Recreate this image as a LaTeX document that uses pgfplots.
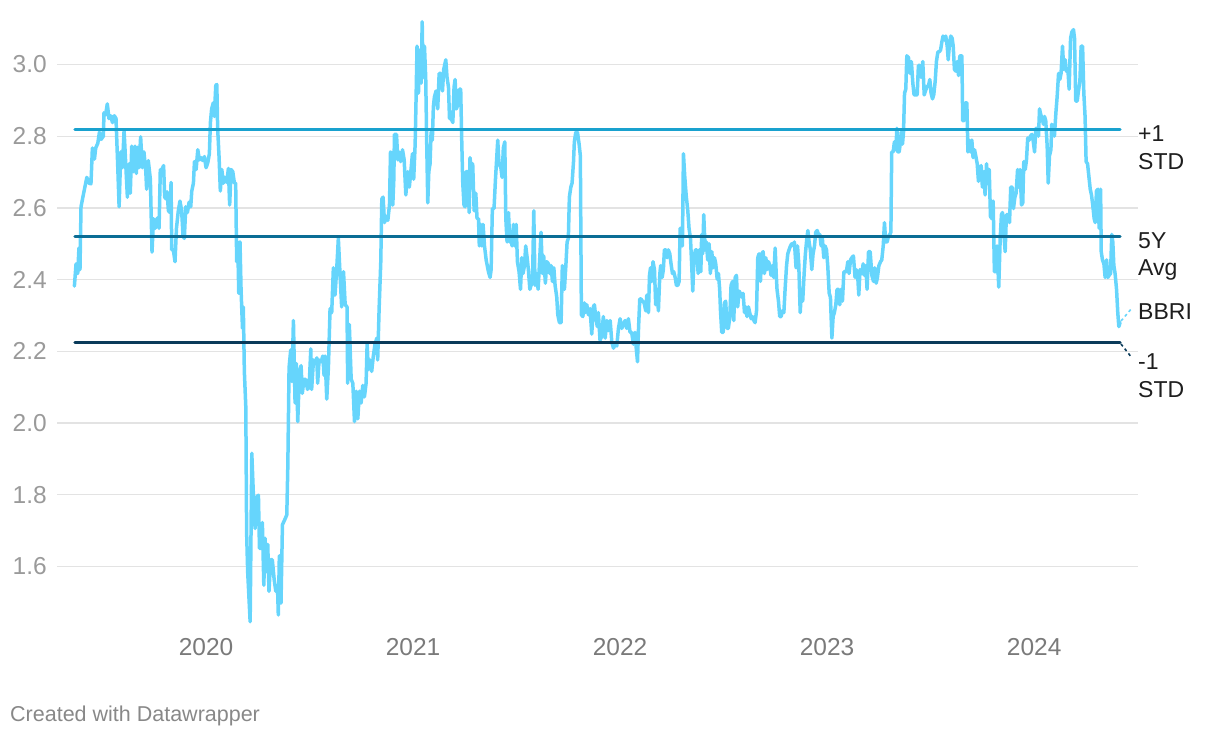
\documentclass[border=0pt]{standalone}
\usepackage{fontspec}
\setmainfont{Liberation Sans}
\usepackage{pgfplots}
\pgfplotsset{compat=1.18}

\definecolor{bbri}{HTML}{66D5FC}
\definecolor{stdhi}{HTML}{19A1CE}
\definecolor{avgc}{HTML}{0B6D95}
\definecolor{stdlo}{HTML}{0A3B5A}
\definecolor{gridc}{HTML}{E3E3E3}
\definecolor{ticky}{HTML}{9A9A9A}
\definecolor{tickx}{HTML}{7A7A7A}
\definecolor{labc}{HTML}{1E1E1E}
\definecolor{footc}{HTML}{888888}

\begin{document}
\begin{tikzpicture}
\useasboundingbox (0pt,0pt) rectangle (1220pt,738pt);
\begin{axis}[
  at={(57pt,99.7pt)}, anchor=south west,
  width=1081pt, height=645.6pt, scale only axis,
  xmin=2019.280, xmax=2024.502,
  ymin=1.4, ymax=3.2,
  axis line style={draw=none},
  major tick length=0pt,
  xtick={2020,2021,2022,2023,2024},
  xticklabels={2020,2021,2022,2023,2024},
  ytick={1.6,1.8,2.0,2.2,2.4,2.6,2.8,3.0},
  yticklabels={1.6,1.8,2.0,2.2,2.4,2.6,2.8,3.0},
  ymajorgrids=true,
  grid style={gridc, line width=1.3pt},
  /pgf/number format/assume math mode=true,
  every tick label/.append style={font=\fontsize{24.5}{28}\selectfont},
  yticklabel style={anchor=east, inner sep=0pt, xshift=-10pt, text=ticky},
  xticklabel style={anchor=north, inner sep=0pt, yshift=0pt, text=tickx},
]

% BBRI series
\addplot[bbri, line width=3.5pt, line join=round, line cap=round] coordinates {
(2019.364,2.382)(2019.372,2.444)(2019.380,2.417)(2019.386,2.488)(2019.391,2.428)(2019.396,2.603)
(2019.407,2.636)(2019.424,2.685)(2019.435,2.669)(2019.444,2.667)(2019.451,2.767)(2019.461,2.736)
(2019.467,2.767)(2019.477,2.780)(2019.485,2.811)(2019.493,2.791)(2019.504,2.800)(2019.507,2.865)
(2019.515,2.860)(2019.523,2.890)(2019.531,2.849)(2019.539,2.857)(2019.548,2.838)(2019.557,2.857)
(2019.565,2.849)(2019.573,2.723)(2019.580,2.603)(2019.588,2.756)(2019.596,2.712)(2019.604,2.816)
(2019.612,2.723)(2019.620,2.630)(2019.628,2.723)(2019.634,2.641)(2019.641,2.772)(2019.649,2.701)
(2019.657,2.772)(2019.663,2.696)(2019.670,2.769)(2019.676,2.712)(2019.684,2.798)(2019.692,2.712)
(2019.700,2.756)(2019.709,2.701)(2019.713,2.652)(2019.721,2.732)(2019.731,2.680)(2019.739,2.477)
(2019.746,2.570)(2019.754,2.543)(2019.765,2.572)(2019.773,2.543)(2019.779,2.707)(2019.787,2.707)
(2019.795,2.718)(2019.800,2.630)(2019.807,2.625)(2019.812,2.645)(2019.818,2.592)(2019.826,2.587)
(2019.831,2.671)(2019.834,2.483)(2019.842,2.483)(2019.850,2.450)(2019.857,2.543)(2019.866,2.592)
(2019.874,2.619)(2019.882,2.592)(2019.889,2.521)(2019.895,2.515)(2019.902,2.603)(2019.910,2.587)
(2019.918,2.616)(2019.926,2.603)(2019.931,2.647)(2019.939,2.669)(2019.944,2.729)(2019.952,2.707)
(2019.960,2.762)(2019.968,2.734)(2019.976,2.740)(2019.984,2.732)(2019.992,2.743)(2020.000,2.712)
(2020.008,2.725)(2020.016,2.751)(2020.021,2.838)(2020.027,2.876)(2020.035,2.893)(2020.040,2.855)
(2020.047,2.942)(2020.052,2.944)(2020.056,2.822)(2020.063,2.740)(2020.069,2.647)(2020.076,2.707)
(2020.084,2.669)(2020.092,2.685)(2020.100,2.671)(2020.108,2.710)(2020.114,2.608)(2020.121,2.707)
(2020.129,2.701)(2020.137,2.669)(2020.143,2.669)(2020.148,2.450)(2020.153,2.505)(2020.158,2.362)
(2020.164,2.505)(2020.169,2.373)(2020.176,2.264)(2020.180,2.324)(2020.185,2.144)(2020.192,2.045)
(2020.196,1.695)(2020.201,1.586)(2020.213,1.446)(2020.221,1.916)(2020.229,1.794)(2020.237,1.706)
(2020.245,1.794)(2020.253,1.799)(2020.258,1.651)(2020.266,1.651)(2020.272,1.723)(2020.279,1.548)
(2020.285,1.679)(2020.291,1.586)(2020.298,1.662)(2020.304,1.531)(2020.312,1.619)(2020.320,1.619)
(2020.329,1.564)(2020.337,1.531)(2020.345,1.548)(2020.349,1.465)(2020.354,1.630)(2020.362,1.498)
(2020.369,1.717)(2020.378,1.728)(2020.390,1.744)(2020.395,1.881)(2020.401,2.155)(2020.409,2.204)
(2020.415,2.116)(2020.422,2.286)(2020.430,2.056)(2020.436,2.166)(2020.443,2.004)(2020.451,2.144)
(2020.459,2.160)(2020.465,2.083)(2020.473,2.122)(2020.481,2.122)(2020.490,2.094)(2020.498,2.102)
(2020.506,2.207)(2020.510,2.094)(2020.519,2.176)(2020.527,2.166)(2020.535,2.182)(2020.539,2.111)
(2020.546,2.176)(2020.556,2.171)(2020.564,2.187)(2020.570,2.133)
(2020.575,2.187)(2020.583,2.067)(2020.591,2.155)(2020.599,2.319)(2020.607,2.308)(2020.615,2.433)
(2020.623,2.357)(2020.631,2.428)(2020.639,2.515)(2020.647,2.417)(2020.655,2.324)(2020.664,2.422)
(2020.672,2.330)(2020.681,2.324)(2020.684,2.111)(2020.692,2.275)(2020.701,2.122)(2020.709,2.111)
(2020.717,2.004)(2020.725,2.089)(2020.733,2.012)(2020.741,2.089)(2020.749,2.056)(2020.757,2.105)
(2020.765,2.073)(2020.773,2.111)(2020.778,2.220)(2020.784,2.149)(2020.792,2.176)(2020.800,2.144)
(2020.808,2.187)(2020.816,2.220)(2020.825,2.237)(2020.829,2.176)(2020.836,2.319)(2020.844,2.450)
(2020.849,2.625)(2020.855,2.630)(2020.862,2.559)(2020.870,2.576)(2020.878,2.565)(2020.886,2.608)
(2020.891,2.756)(2020.897,2.751)(2020.902,2.608)(2020.907,2.680)(2020.910,2.805)(2020.920,2.805)
(2020.926,2.734)(2020.932,2.756)(2020.940,2.729)(2020.949,2.762)(2020.957,2.734)(2020.965,2.636)
(2020.974,2.701)(2020.982,2.658)(2020.990,2.707)(2020.997,2.751)(2021.003,2.680)(2021.010,2.778)
(2021.015,2.920)(2021.019,3.051)(2021.026,2.920)(2021.032,3.040)(2021.039,2.948)(2021.044,3.119)
(2021.048,2.964)(2021.055,3.051)(2021.061,2.964)(2021.066,2.778)(2021.071,2.614)(2021.076,2.701)
(2021.082,2.723)(2021.087,2.811)(2021.093,2.789)(2021.098,2.882)(2021.103,2.909)(2021.111,2.926)
(2021.119,2.876)(2021.126,2.975)(2021.134,2.975)(2021.142,2.926)(2021.148,2.986)(2021.158,3.013)
(2021.164,2.964)(2021.171,2.937)(2021.176,2.849)(2021.184,2.849)(2021.192,2.838)(2021.198,2.937)
(2021.203,2.958)(2021.209,2.876)(2021.216,2.887)(2021.224,2.931)(2021.230,2.931)(2021.235,2.789)
(2021.240,2.669)(2021.246,2.608)(2021.251,2.603)(2021.256,2.701)(2021.264,2.701)(2021.271,2.587)
(2021.275,2.740)(2021.283,2.701)(2021.288,2.723)(2021.295,2.592)(2021.303,2.641)(2021.309,2.570)
(2021.316,2.570)(2021.320,2.494)(2021.327,2.554)(2021.332,2.494)(2021.338,2.554)(2021.345,2.494)
(2021.353,2.455)(2021.364,2.422)(2021.372,2.406)(2021.377,2.428)(2021.383,2.598)(2021.391,2.598)
(2021.398,2.680)(2021.403,2.729)(2021.409,2.789)(2021.415,2.723)(2021.424,2.712)(2021.430,2.685)
(2021.436,2.767)(2021.443,2.784)(2021.448,2.570)(2021.454,2.505)(2021.461,2.587)(2021.467,2.505)
(2021.472,2.526)(2021.478,2.494)(2021.485,2.554)(2021.491,2.494)(2021.498,2.554)(2021.504,2.450)
(2021.512,2.422)(2021.519,2.373)(2021.525,2.461)(2021.531,2.417)(2021.538,2.439)(2021.544,2.494)
(2021.551,2.461)(2021.557,2.428)(2021.564,2.373)(2021.570,2.384)(2021.577,2.395)(2021.583,2.592)
(2021.589,2.384)(2021.597,2.417)(2021.604,2.373)(2021.612,2.461)(2021.618,2.532)(2021.625,2.417)
(2021.631,2.466)(2021.639,2.390)(2021.646,2.450)(2021.654,2.444)(2021.660,2.417)(2021.667,2.439)
(2021.673,2.395)(2021.680,2.433)(2021.686,2.384)(2021.694,2.351)(2021.699,2.302)(2021.707,2.280)
(2021.715,2.280)(2021.721,2.439)(2021.731,2.373)(2021.738,2.439)(2021.744,2.505)(2021.750,2.515)
(2021.755,2.630)(2021.762,2.658)(2021.768,2.669)(2021.775,2.729)(2021.779,2.784)(2021.786,2.811)
(2021.794,2.811)(2021.802,2.778)(2021.808,2.745)(2021.813,2.302)(2021.820,2.297)(2021.828,2.335)
(2021.831,2.308)(2021.839,2.330)(2021.847,2.302)(2021.855,2.319)(2021.863,2.248)(2021.871,2.324)
(2021.876,2.330)(2021.882,2.297)(2021.890,2.269)(2021.895,2.308)(2021.903,2.231)(2021.911,2.242)
(2021.919,2.297)(2021.928,2.237)(2021.936,2.286)(2021.944,2.258)(2021.952,2.286)(2021.960,2.226)
(2021.968,2.209)(2021.976,2.220)(2021.984,2.215)(2021.992,2.264)(2022.000,2.291)(2022.008,2.264)
(2022.016,2.275)(2022.024,2.286)(2022.032,2.264)(2022.040,2.291)(2022.048,2.253)(2022.056,2.253)
(2022.064,2.220)(2022.072,2.253)(2022.077,2.215)(2022.084,2.171)(2022.089,2.264)(2022.095,2.346)
(2022.101,2.346)(2022.108,2.340)(2022.116,2.335)(2022.124,2.313)(2022.129,2.357)(2022.137,2.308)
(2022.142,2.412)(2022.147,2.433)(2022.153,2.395)(2022.159,2.450)(2022.166,2.428)(2022.172,2.330)
(2022.179,2.373)(2022.185,2.313)(2022.192,2.417)(2022.196,2.439)(2022.203,2.406)(2022.209,2.428)
(2022.214,2.483)(2022.221,2.483)(2022.227,2.461)(2022.233,2.483)(2022.240,2.472)(2022.246,2.444)
(2022.253,2.417)(2022.259,2.422)(2022.266,2.406)(2022.272,2.384)(2022.279,2.384)(2022.285,2.395)
(2022.290,2.543)(2022.295,2.543)(2022.301,2.494)(2022.306,2.751)(2022.312,2.690)(2022.319,2.636)
(2022.327,2.592)(2022.333,2.543)(2022.340,2.515)(2022.346,2.439)(2022.351,2.368)(2022.357,2.461)
(2022.364,2.483)(2022.370,2.483)(2022.377,2.417)(2022.383,2.483)(2022.390,2.422)(2022.394,2.526)
(2022.399,2.472)(2022.404,2.581)(2022.411,2.483)(2022.417,2.505)(2022.423,2.455)(2022.430,2.500)
(2022.436,2.417)(2022.443,2.478)(2022.449,2.433)(2022.456,2.461)(2022.462,2.444)(2022.469,2.401)
(2022.475,2.417)(2022.481,2.373)(2022.485,2.313)(2022.491,2.253)(2022.498,2.253)(2022.504,2.335)
(2022.510,2.340)(2022.517,2.264)(2022.523,2.264)(2022.530,2.297)(2022.536,2.384)(2022.543,2.395)
(2022.549,2.286)(2022.556,2.406)(2022.562,2.412)(2022.568,2.324)(2022.575,2.368)(2022.581,2.362)
(2022.588,2.351)(2022.594,2.362)(2022.601,2.308)(2022.607,2.324)(2022.613,2.297)(2022.620,2.324)
(2022.626,2.308)(2022.633,2.291)(2022.639,2.297)(2022.646,2.286)(2022.652,2.280)(2022.659,2.313)
(2022.665,2.461)(2022.671,2.472)(2022.678,2.395)(2022.684,2.472)(2022.691,2.478)(2022.697,2.417)
(2022.704,2.461)(2022.710,2.428)(2022.717,2.450)(2022.723,2.439)(2022.729,2.412)(2022.736,2.439)
(2022.742,2.406)(2022.749,2.488)(2022.754,2.417)(2022.758,2.373)(2022.765,2.340)(2022.771,2.297)
(2022.778,2.297)(2022.784,2.313)(2022.791,2.308)(2022.797,2.373)(2022.804,2.439)(2022.810,2.472)
(2022.816,2.483)(2022.823,2.494)(2022.829,2.500)(2022.836,2.494)(2022.842,2.505)(2022.850,2.433)
(2022.857,2.494)(2022.863,2.444)(2022.870,2.308)(2022.876,2.373)(2022.882,2.340)(2022.889,2.417)
(2022.895,2.472)(2022.902,2.515)(2022.907,2.537)(2022.913,2.505)(2022.919,2.483)(2022.926,2.428)
(2022.932,2.472)(2022.939,2.494)(2022.945,2.532)(2022.952,2.537)(2022.958,2.526)(2022.965,2.526)
(2022.971,2.494)(2022.977,2.515)(2022.984,2.461)(2022.990,2.494)(2022.997,2.483)(2023.003,2.439)
(2023.010,2.362)(2023.016,2.351)(2023.023,2.237)(2023.029,2.297)(2023.035,2.308)(2023.042,2.330)
(2023.048,2.373)(2023.055,2.373)(2023.061,2.330)(2023.068,2.373)(2023.074,2.340)(2023.081,2.422)
(2023.087,2.422)(2023.093,2.422)(2023.100,2.450)(2023.106,2.417)(2023.113,2.455)(2023.119,2.461)
(2023.127,2.466)(2023.135,2.406)(2023.140,2.428)(2023.147,2.417)(2023.153,2.357)(2023.159,2.428)
(2023.168,2.417)(2023.174,2.444)(2023.180,2.412)(2023.187,2.439)(2023.193,2.373)(2023.200,2.478)
(2023.208,2.478)(2023.216,2.412)(2023.224,2.395)(2023.230,2.433)(2023.237,2.390)(2023.243,2.406)
(2023.250,2.439)(2023.258,2.450)(2023.264,2.455)(2023.271,2.494)(2023.277,2.559)(2023.283,2.505)
(2023.290,2.505)(2023.296,2.521)(2023.303,2.526)(2023.308,2.532)(2023.312,2.756)(2023.319,2.756)
(2023.325,2.784)(2023.332,2.762)(2023.337,2.822)(2023.341,2.756)(2023.348,2.756)(2023.353,2.778)
(2023.358,2.811)(2023.364,2.778)(2023.369,2.811)(2023.374,2.920)(2023.380,2.931)(2023.385,3.024)
(2023.393,3.019)(2023.401,2.975)(2023.407,3.008)(2023.414,2.948)(2023.420,2.915)(2023.428,2.915)
(2023.435,2.915)(2023.441,2.997)(2023.448,2.997)(2023.454,2.964)(2023.462,3.008)(2023.469,2.915)
(2023.475,2.926)(2023.482,2.937)(2023.490,2.942)(2023.496,2.958)(2023.502,2.920)(2023.509,2.904)
(2023.515,2.915)(2023.522,2.953)(2023.528,3.008)(2023.535,3.035)(2023.541,3.035)(2023.548,3.040)
(2023.554,3.062)(2023.560,3.079)(2023.567,3.068)(2023.573,3.079)(2023.580,3.051)(2023.585,3.013)
(2023.591,3.057)(2023.597,3.079)(2023.604,3.073)(2023.609,3.051)(2023.615,2.986)(2023.622,2.981)
(2023.628,3.008)(2023.635,2.969)(2023.641,3.024)(2023.651,3.024)(2023.655,2.843)(2023.662,2.843)
(2023.668,2.893)(2023.675,2.893)(2023.680,2.756)(2023.686,2.789)(2023.692,2.756)(2023.699,2.789)
(2023.705,2.740)(2023.712,2.762)(2023.718,2.745)(2023.725,2.723)(2023.731,2.674)(2023.738,2.707)
(2023.744,2.718)(2023.750,2.658)(2023.757,2.701)(2023.763,2.636)(2023.770,2.723)(2023.776,2.669)
(2023.783,2.707)(2023.789,2.576)(2023.796,2.570)(2023.802,2.619)(2023.808,2.422)(2023.815,2.422)
(2023.821,2.494)(2023.829,2.379)(2023.836,2.515)(2023.842,2.581)(2023.847,2.587)(2023.854,2.526)
(2023.860,2.478)(2023.866,2.581)(2023.874,2.581)(2023.881,2.559)(2023.887,2.658)(2023.894,2.658)
(2023.900,2.598)(2023.907,2.630)(2023.913,2.641)(2023.920,2.707)(2023.926,2.658)(2023.932,2.707)
(2023.939,2.608)(2023.945,2.614)(2023.950,2.729)(2023.957,2.707)(2023.963,2.734)(2023.969,2.795)
(2023.976,2.789)(2023.982,2.800)(2023.989,2.805)(2023.995,2.789)(2024.002,2.756)(2024.008,2.822)
(2024.015,2.822)(2024.021,2.800)(2024.026,2.876)(2024.032,2.860)(2024.039,2.849)(2024.045,2.833)
(2024.050,2.855)(2024.056,2.843)(2024.063,2.772)(2024.068,2.669)(2024.074,2.745)(2024.081,2.762)
(2024.085,2.833)(2024.092,2.816)(2024.098,2.800)(2024.105,2.865)(2024.111,2.909)(2024.118,2.975)
(2024.124,2.958)(2024.130,2.975)(2024.137,3.051)(2024.143,2.986)(2024.150,3.013)(2024.156,2.981)
(2024.163,2.986)(2024.169,2.931)(2024.176,3.073)(2024.182,3.090)(2024.190,3.097)(2024.195,3.073)
(2024.201,2.898)(2024.208,2.898)(2024.214,2.926)(2024.221,2.953)(2024.227,3.051)(2024.234,3.051)
(2024.240,2.920)(2024.246,2.855)(2024.251,2.729)(2024.258,2.723)(2024.264,2.690)(2024.271,2.652)
(2024.277,2.636)(2024.283,2.608)(2024.290,2.570)(2024.295,2.559)(2024.301,2.647)(2024.308,2.652)
(2024.314,2.543)(2024.321,2.652)(2024.324,2.478)(2024.330,2.455)(2024.337,2.444)(2024.343,2.406)
(2024.350,2.455)(2024.356,2.406)(2024.362,2.412)(2024.369,2.417)(2024.375,2.526)(2024.380,2.505)
(2024.385,2.439)(2024.391,2.417)(2024.398,2.373)(2024.404,2.308)(2024.409,2.269)(2024.415,2.280)
};

% reference lines
\addplot[stdhi, line width=3.3pt, line cap=round] coordinates {(2019.367,2.819) (2024.415,2.819)};
\addplot[avgc, line width=3.3pt, line cap=round] coordinates {(2019.367,2.521) (2024.415,2.521)};
\addplot[stdlo, line width=3.3pt, line cap=round] coordinates {(2019.367,2.225) (2024.415,2.225)};
\end{axis}

% connectors to the labels
\draw[bbri, line width=1.6pt, dash pattern=on 3pt off 3pt] (1121pt,417pt) -- (1132pt,430pt);
\draw[stdlo, line width=1.6pt, dash pattern=on 3pt off 3pt] (1121pt,394pt) -- (1132pt,380pt);

% direct labels
\begin{scope}[every node/.style={anchor=base west, inner sep=0pt, text=labc, font=\fontsize{23}{27}\selectfont}]
\node at (1138pt,596pt) {+1};
\node at (1138pt,568pt) {STD};
\node at (1138pt,489pt) {5Y};
\node at (1138pt,462pt) {Avg};
\node at (1138pt,418pt) {BBRI};
\node at (1138pt,368pt) {-1};
\node at (1138pt,340pt) {STD};
\end{scope}

\node[anchor=base west, inner sep=0pt, text=footc, font=\fontsize{21.5}{26}\selectfont] at (10pt,16.3pt) {Created with Datawrapper};
\end{tikzpicture}
\end{document}
